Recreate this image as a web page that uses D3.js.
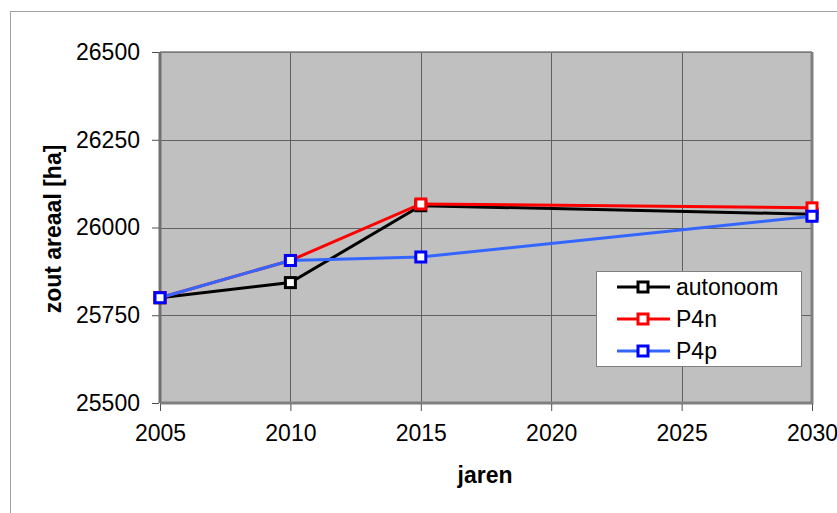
<!DOCTYPE html>
<html>
<head>
<meta charset="utf-8">
<script src="https://cdn.jsdelivr.net/npm/d3@7"></script>
<style>
  body { margin: 0; background: #fff; }
  text { font-family: "Liberation Sans", Arial, sans-serif; }
</style>
</head>
<body>
<div id="chart"></div>
<script>
var years = [2005, 2010, 2015, 2030];
var autonoom = [25800, 25843, 26062, 26038];
var p4n = [25800, 25906, 26067, 26056];
var p4p = [25800, 25906, 25916, 26032];
var seriesNames = ["autonoom", "P4n", "P4p"];
var xTicks = [2005, 2010, 2015, 2020, 2025, 2030];
var yTicks = [25500, 25750, 26000, 26250, 26500];

var width = 837, height = 513;
var pLeft = 160, pRight = 812, pTop = 52, pBottom = 403;

var svg = d3.select("#chart").append("svg")
  .attr("width", width).attr("height", height);

// outer chart border
svg.append("rect")
  .attr("x", 10.5).attr("y", 11.5)
  .attr("width", 840).attr("height", 520)
  .attr("fill", "#fff").attr("stroke", "#a0a0a0");

var x = d3.scaleLinear().domain([2005, 2030]).range([pLeft, pRight]);
var y = d3.scaleLinear().domain([25500, 26500]).range([pBottom, pTop]);

// plot area
svg.append("rect")
  .attr("x", pLeft).attr("y", pTop)
  .attr("width", pRight - pLeft).attr("height", pBottom - pTop)
  .attr("fill", "#c0c0c0");

// grid
svg.append("g").selectAll("line").data(yTicks).enter().append("line")
  .attr("x1", pLeft).attr("x2", pRight)
  .attr("y1", function (d) { return Math.round(y(d)) + 0.5; })
  .attr("y2", function (d) { return Math.round(y(d)) + 0.5; })
  .attr("stroke", "#606060");
svg.append("g").selectAll("line").data(xTicks).enter().append("line")
  .attr("y1", pTop).attr("y2", pBottom)
  .attr("x1", function (d) { return Math.round(x(d)) + 0.5; })
  .attr("x2", function (d) { return Math.round(x(d)) + 0.5; })
  .attr("stroke", "#606060");

// plot border
svg.append("path")
  .attr("d", "M" + pLeft + "," + pBottom + "H" + pRight + "V" + pTop)
  .attr("fill", "none").attr("stroke", "#808080").attr("stroke-width", 3);
svg.append("path")
  .attr("d", "M" + pLeft + "," + pTop + "H" + pRight)
  .attr("fill", "none").attr("stroke", "#808080").attr("stroke-width", 1.5);
svg.append("path")
  .attr("d", "M" + pLeft + "," + pTop + "V" + pBottom)
  .attr("fill", "none").attr("stroke", "#707070").attr("stroke-width", 3);

// axes
var yAxis = d3.axisLeft(y).tickValues(yTicks).tickSize(7).tickPadding(12).tickFormat(d3.format("d"));
var xAxis = d3.axisBottom(x).tickValues(xTicks).tickSize(7).tickPadding(14).tickFormat(d3.format("d"));

var gy = svg.append("g").attr("transform", "translate(" + (pLeft - 1) + ",0)").call(yAxis);
var gx = svg.append("g").attr("transform", "translate(0," + (pBottom + 1) + ")").call(xAxis);
[gx, gy].forEach(function (g) {
  g.select(".domain").remove();
  g.selectAll("line").attr("stroke", "#505050");
  g.selectAll("text").style("font-size", "23px").attr("fill", "#000");
});

// axis titles
svg.append("text")
  .attr("x", 485).attr("y", 483)
  .attr("text-anchor", "middle")
  .style("font-size", "23px").style("font-weight", "bold")
  .text("jaren");
svg.append("text")
  .attr("transform", "translate(61,229) rotate(-90)")
  .attr("text-anchor", "middle")
  .style("font-size", "23px").style("font-weight", "bold")
  .text("zout areaal [ha]");

// series
var series = [
  { name: seriesNames[0], values: autonoom, line: "#000000", mark: "#000000" },
  { name: seriesNames[1], values: p4n, line: "#ff0000", mark: "#ff0000" },
  { name: seriesNames[2], values: p4p, line: "#3366ff", mark: "#0000ff" }
];

var line = d3.line()
  .x(function (d, i) { return x(years[i]); })
  .y(function (d) { return y(d); });

var ms = 10;
series.forEach(function (s) {
  var g = svg.append("g");
  g.append("path")
    .attr("d", line(s.values))
    .attr("fill", "none").attr("stroke", s.line).attr("stroke-width", 3);
  g.selectAll("rect").data(s.values).enter().append("rect")
    .attr("x", function (d, i) { return x(years[i]) - ms / 2; })
    .attr("y", function (d) { return y(d) - ms / 2; })
    .attr("width", ms).attr("height", ms)
    .attr("fill", "#fff").attr("stroke", s.mark).attr("stroke-width", 3);
});

// legend
var lg = svg.append("g").attr("transform", "translate(596,271)");
lg.append("rect")
  .attr("x", 0.5).attr("y", 0.5).attr("width", 205).attr("height", 95)
  .attr("fill", "#fff").attr("stroke", "#808080");
series.forEach(function (s, i) {
  var cy = 16 + i * 32;
  lg.append("line")
    .attr("x1", 21).attr("x2", 74).attr("y1", cy).attr("y2", cy)
    .attr("stroke", s.line).attr("stroke-width", 3);
  lg.append("rect")
    .attr("x", 47 - ms / 2).attr("y", cy - ms / 2)
    .attr("width", ms).attr("height", ms)
    .attr("fill", "#fff").attr("stroke", s.mark).attr("stroke-width", 3);
  lg.append("text")
    .attr("x", 80).attr("y", cy).attr("dy", "0.35em")
    .style("font-size", "23px")
    .text(s.name);
});
</script>
</body>
</html>
